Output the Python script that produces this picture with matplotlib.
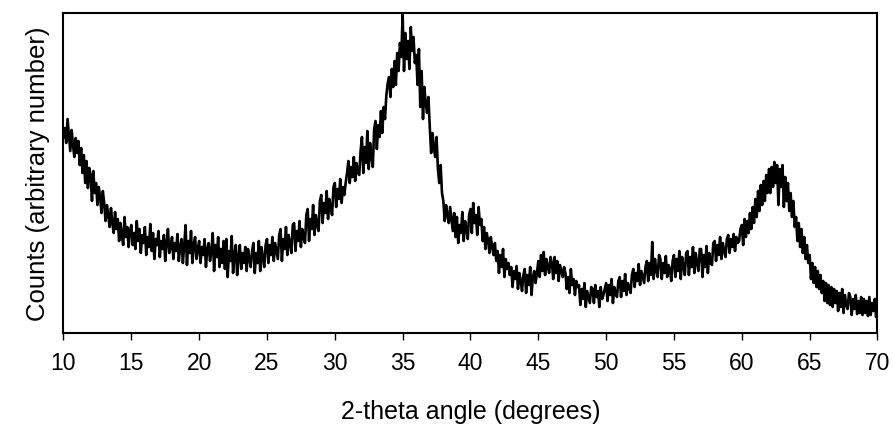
import numpy as np
import matplotlib
matplotlib.use("Agg")
import matplotlib.pyplot as plt

plt.rcParams["font.family"] = ["Liberation Sans", "DejaVu Sans"]

# 2-theta start/step of the scan (degrees)
theta_start = 10.0
theta_step = 0.1

# counts (arbitrary), every 0.1 deg, one row per degree
counts = [
    196, 205, 190, 214, 198, 182, 203, 188, 176, 195,   # 10
    180, 192, 168, 185, 160, 178, 150, 172, 145, 165,   # 11
    158, 132, 162, 140, 150, 128, 146, 136, 120, 142,   # 12
    130, 112, 128, 118, 106, 125, 110, 100, 121, 104,   # 13
    114, 92, 110, 98, 88, 116, 96, 106, 86, 102,        # 14
    108, 88, 100, 84, 112, 92, 104, 80, 98, 90,         # 15
    106, 78, 96, 86, 109, 82, 100, 74, 94, 88,          # 16
    102, 76, 92, 84, 98, 72, 90, 104, 80, 86,           # 17
    96, 74, 90, 82, 99, 72, 86, 94, 70, 88,             # 18
    108, 68, 92, 80, 102, 70, 88, 96, 74, 84,           # 19
    92, 70, 86, 78, 94, 66, 84, 90, 72, 82,             # 20
    100, 62, 88, 76, 96, 66, 84, 70, 92, 64,            # 21
    94, 56, 82, 72, 97, 60, 78, 88, 58, 76,             # 22
    88, 64, 80, 70, 86, 62, 84, 74, 66, 82,             # 23
    90, 60, 80, 70, 92, 62, 86, 74, 66, 88,             # 24
    94, 70, 88, 78, 96, 72, 90, 82, 74, 98,             # 25
    104, 72, 94, 84, 106, 78, 98, 88, 80, 108,          # 26
    110, 82, 102, 92, 112, 86, 104, 96, 90, 118,        # 27
    124, 92, 114, 104, 128, 98, 118, 108, 102, 132,     # 28
    138, 110, 130, 120, 142, 114, 134, 124, 118, 146,   # 29
    150, 126, 144, 134, 154, 130, 146, 138, 150, 160,   # 30
    172, 150, 166, 156, 176, 152, 170, 160, 158, 182,   # 31
    196, 160, 186, 170, 202, 164, 190, 176, 166, 204,   # 32
    212, 184, 208, 196, 222, 200, 226, 214, 238, 250,   # 33
    256, 236, 264, 246, 272, 248, 280, 262, 290, 276,   # 34
    319, 262, 300, 274, 292, 264, 306, 282, 296, 270,   # 35
    278, 248, 284, 226, 262, 214, 246, 230, 220, 236,   # 36
    206, 180, 200, 186, 176, 196, 164, 150, 168, 140,   # 37
    132, 112, 128, 118, 110, 126, 114, 102, 120, 96,    # 38
    116, 90, 108, 100, 121, 92, 112, 104, 94, 118,      # 39
    124, 100, 130, 110, 118, 98, 126, 108, 114, 92,     # 40
    106, 84, 100, 92, 80, 96, 86, 78, 90, 72,           # 41
    82, 60, 78, 66, 84, 56, 74, 64, 70, 58,             # 42
    66, 46, 62, 54, 67, 44, 60, 52, 42, 58,             # 43
    64, 40, 58, 48, 66, 38, 56, 62, 50, 60,             # 44
    72, 56, 78, 62, 81, 58, 74, 66, 60, 76,             # 45
    70, 54, 76, 60, 72, 52, 68, 62, 56, 66,             # 46
    60, 44, 56, 40, 64, 48, 54, 38, 52, 46,             # 47
    48, 28, 44, 34, 50, 26, 42, 36, 30, 46,             # 48
    44, 30, 48, 36, 42, 26, 46, 34, 38, 44,             # 49
    50, 32, 48, 38, 54, 30, 46, 40, 36, 52,             # 50
    56, 36, 52, 42, 59, 38, 50, 46, 40, 58,             # 51
    64, 46, 60, 52, 69, 48, 62, 56, 50, 66,             # 52
    72, 52, 70, 58, 91, 54, 74, 62, 56, 78,             # 53
    74, 54, 70, 60, 77, 56, 68, 64, 52, 72,             # 54
    78, 56, 74, 62, 82, 54, 76, 66, 58, 80,             # 55
    82, 58, 76, 66, 86, 60, 80, 70, 62, 84,             # 56
    84, 56, 78, 66, 87, 60, 80, 70, 68, 90,             # 57
    92, 72, 88, 78, 96, 74, 90, 82, 76, 94,             # 58
    98, 80, 94, 86, 99, 82, 96, 90, 92, 104,            # 59
    108, 88, 114, 96, 112, 100, 120, 104, 126, 110,     # 60
    134, 116, 142, 122, 148, 128, 152, 132, 158, 140,   # 61
    164, 140, 166, 146, 171, 150, 168, 128, 164, 146,   # 62
    168, 126, 156, 132, 150, 122, 140, 116, 132, 106,   # 63
    116, 92, 110, 86, 104, 80, 96, 74, 88, 70,          # 64
    78, 54, 70, 50, 66, 46, 62, 44, 58, 40,             # 65
    52, 32, 50, 30, 48, 28, 46, 26, 44, 30,             # 66
    42, 22, 40, 26, 44, 20, 38, 28, 24, 40,             # 67
    36, 18, 34, 24, 38, 19, 32, 20, 36, 18,             # 68
    34, 20, 32, 17, 36, 18, 30, 22, 34, 16,             # 69
    40,                                                 # 70
]

two_theta = theta_start + theta_step * np.arange(len(counts))

fig = plt.figure(figsize=(8.93, 4.31), dpi=100)
ax = fig.add_axes([0.0711, 0.225, 0.9115, 0.7425])

ax.plot(two_theta, counts, color="black", linewidth=1.9)

ax.set_xlim(10, 70)
ax.set_ylim(0, 320)
ax.set_xticks(np.arange(10, 71, 5))
ax.set_yticks([])
ax.tick_params(axis="x", direction="out", length=5, width=1, pad=8, labelsize=16.5)

for sp in ax.spines.values():
    sp.set_linewidth(1.5)

ax.set_xlabel("2-theta angle (degrees)", fontsize=18, labelpad=18)
ax.set_ylabel("Counts (arbitrary number)", fontsize=18.5, labelpad=10)

fig.savefig("out.png", dpi=100)
